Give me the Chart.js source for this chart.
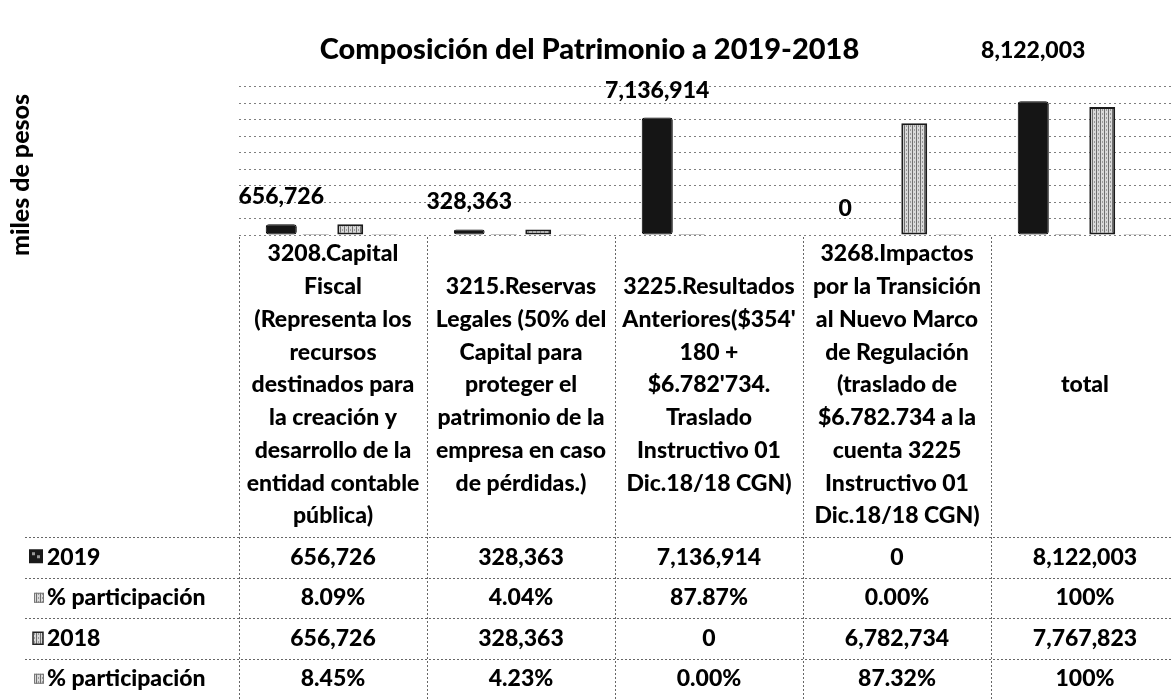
<!DOCTYPE html>
<html>
<head>
<meta charset="utf-8">
<title>Composición del Patrimonio a 2019-2018</title>
<script src="https://cdn.jsdelivr.net/npm/chart.js@4.4.1/dist/chart.umd.min.js"></script>
<style>
  html, body { margin: 0; padding: 0; background: #fff; overflow: hidden; }
  #wrap { width: 1181px; height: 699px; }
</style>
</head>
<body>
<div id="wrap"><canvas id="patrimonio" width="1181" height="699"></canvas></div>
<script>
// categories (cuentas) shown as the header row of the data table
const categories = [
  ["3208.Capital", "Fiscal", "(Representa los", "recursos", "destinados para", "la creación y", "desarrollo de la", "entidad contable", "pública)"],
  ["3215.Reservas", "Legales (50% del", "Capital para", "proteger el", "patrimonio de la", "empresa en caso", "de pérdidas.)"],
  ["3225.Resultados", "Anteriores($354'", "180 +", "$6.782'734.", "Traslado", "Instructivo 01", "Dic.18/18 CGN)"],
  ["3268.Impactos", "por la Transición", "al Nuevo Marco", "de Regulación", "(traslado de", "$6.782.734 a la", "cuenta 3225", "Instructivo 01", "Dic.18/18 CGN)"],
  ["total"]
];

// miles de pesos
const valores2019 = [656726, 328363, 7136914, 0, 8122003];
const participacion2019 = [8.09, 4.04, 87.87, 0.00, 100];
const valores2018 = [656726, 328363, 0, 6782734, 7767823];
const participacion2018 = [8.45, 4.23, 0.00, 87.32, 100];

// value axis ticks
const yMax = 9000000;
const yStep = 1000000;

const FONT = "Lato";
const W = "900";

// how far above each 2019 bar its value label sits
const labelLift = [28, 28, 27, 26, 51];

// grey streaky fill for the 2018 bars (scanned look)
function makeHatch() {
  const c = document.createElement("canvas");
  c.width = 4; c.height = 4;
  const g = c.getContext("2d");
  g.fillStyle = "#d9d9d9";
  g.fillRect(0, 0, 4, 4);
  g.fillStyle = "#6e6e6e";
  g.fillRect(0, 0, 1, 4);
  g.fillStyle = "#9a9a9a";
  g.fillRect(2, 1, 1, 2);
  return g.createPattern(c, "repeat");
}
const hatch = makeHatch();

const fmtMiles = v => v.toLocaleString("en-US");
const fmtPct = v => (v === 100 ? "100%" : v.toFixed(2) + "%");

// data table under the bars + labels + axis title
const tablePlugin = {
  id: "tabla",
  afterDatasetsDraw(chart) {
    const ctx = chart.ctx;
    const meta = chart.getDatasetMeta(0);
    ctx.save();
    ctx.fillStyle = "#000";
    ctx.font = W + " 23px " + FONT;
    ctx.textAlign = "center";
    ctx.textBaseline = "middle";
    meta.data.forEach((bar, i) => {
      ctx.fillText(fmtMiles(valores2019[i]), bar.x, bar.y - labelLift[i]);
    });
    ctx.restore();
  },
  afterDraw(chart) {
    const ctx = chart.ctx;
    const x = chart.scales.x;
    const area = chart.chartArea;
    const n = categories.length;
    const colW = (area.right - area.left) / n;
    const tableTop = x.bottom;
    const rowH = (chart.height - tableTop) / 4;

    ctx.save();
    // axis title
    ctx.fillStyle = "#000";
    ctx.font = W + " 25px " + FONT;
    ctx.translate(21, 175);
    ctx.rotate(-Math.PI / 2);
    ctx.textAlign = "center";
    ctx.textBaseline = "middle";
    ctx.fillText("miles de pesos", 0, 0);
    ctx.restore();

    ctx.save();
    ctx.strokeStyle = "rgba(0,0,0,0.6)";
    ctx.lineWidth = 1;
    ctx.setLineDash([2, 2]);
    for (let i = 0; i <= n; i++) {
      const px = Math.round(area.left + i * colW) + 0.5;
      ctx.beginPath();
      ctx.moveTo(px, area.bottom + 2);
      ctx.lineTo(px, chart.height);
      ctx.stroke();
    }
    for (let r = 0; r < 4; r++) {
      const py = Math.round(tableTop + r * rowH) + 0.5;
      ctx.beginPath();
      ctx.moveTo(25, py);
      ctx.lineTo(area.right, py);
      ctx.stroke();
    }
    ctx.restore();

    const rows = [
      { label: "2019", values: valores2019, fmt: fmtMiles },
      { label: "% participación", values: participacion2019, fmt: fmtPct },
      { label: "2018", values: valores2018, fmt: fmtMiles },
      { label: "% participación", values: participacion2018, fmt: fmtPct }
    ];

    ctx.save();
    ctx.font = W + " 23px " + FONT;
    ctx.textBaseline = "middle";
    rows.forEach((row, r) => {
      const cy = tableTop + (r + 0.5) * rowH;
      // legend key
      if (r === 0) {
        ctx.fillStyle = "#1a1a1a";
        ctx.fillRect(29, cy - 8, 14, 14);
        ctx.fillStyle = "#9a9a9a";
        ctx.fillRect(32, cy - 5, 3, 3);
        ctx.fillRect(37, cy - 2, 3, 3);
      } else if (r === 2) {
        ctx.fillStyle = hatch;
        ctx.fillRect(33, cy - 6, 10, 12);
        ctx.strokeStyle = "#222";
        ctx.lineWidth = 1.5;
        ctx.strokeRect(33, cy - 6, 10, 12);
      } else {
        ctx.fillStyle = hatch;
        ctx.fillRect(34, cy - 5, 10, 10);
        ctx.strokeStyle = "#777";
        ctx.lineWidth = 1;
        ctx.strokeRect(34.5, cy - 4.5, 9, 9);
      }
      ctx.fillStyle = "#000";
      ctx.textAlign = "left";
      ctx.fillText(row.label, 47, cy);
      ctx.textAlign = "center";
      row.values.forEach((v, i) => {
        ctx.fillText(row.fmt(v), x.getPixelForValue(i), cy);
      });
    });
    ctx.restore();
  }
};

const ctx = document.getElementById("patrimonio").getContext("2d");
new Chart(ctx, {
  type: "bar",
  data: {
    labels: categories,
    datasets: [
      {
        label: "2019",
        data: valores2019,
        backgroundColor: "#151515",
        borderColor: "#000",
        borderWidth: 1,
        borderRadius: 3,
        borderSkipped: false,
        barPercentage: 0.9,
        categoryPercentage: 0.734
      },
      {
        label: "% participación",
        data: participacion2019,
        backgroundColor: "#888",
        borderWidth: 0,
        barPercentage: 0.75,
        categoryPercentage: 0.734
      },
      {
        label: "2018",
        data: valores2018,
        backgroundColor: hatch,
        borderColor: "#1a1a1a",
        borderWidth: 2,
        borderSkipped: false,
        barPercentage: 0.75,
        categoryPercentage: 0.734
      },
      {
        label: "% participación",
        data: participacion2018,
        backgroundColor: "#aaa",
        borderWidth: 0,
        barPercentage: 0.75,
        categoryPercentage: 0.734
      }
    ]
  },
  options: {
    responsive: false,
    animation: false,
    layout: { padding: { left: 0, right: 2, top: 0, bottom: 162 } },
    plugins: {
      legend: { display: false },
      tooltip: { enabled: false },
      title: {
        display: true,
        text: "Composición del Patrimonio a 2019-2018",
        color: "#000",
        font: { family: FONT, weight: W, size: 29 },
        padding: { top: 32, bottom: 20 }
      }
    },
    scales: {
      x: {
        grid: { display: false },
        border: { display: false },
        ticks: {
          color: "#000",
          font: { family: FONT, weight: W, size: 23, lineHeight: 1.424 },
          padding: 11,
          crossAlign: "center",
          maxRotation: 0,
          minRotation: 0,
          autoSkip: false
        },
        afterFit(scale) { scale.height = 302; }
      },
      y: {
        min: 0,
        max: yMax,
        ticks: { stepSize: yStep, display: false },
        grid: { color: "rgba(0,0,0,0.5)", lineWidth: 1, drawTicks: false },
        border: { display: false, dash: [2, 3] },
        afterFit(scale) { scale.width = 239; }
      }
    }
  },
  plugins: [tablePlugin]
});
</script>
</body>
</html>
